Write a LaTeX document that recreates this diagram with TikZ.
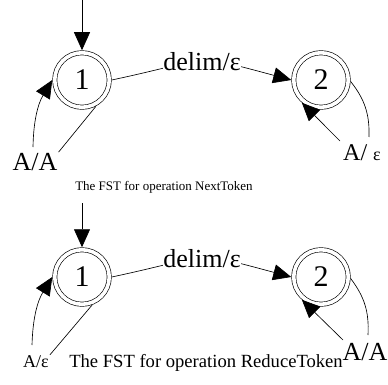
\documentclass[tikz,border=0pt]{standalone}
\usepackage{fontspec}
\setmainfont{Liberation Serif}
\usetikzlibrary{arrows.meta}
\begin{document}
\begin{tikzpicture}[x=1pt,y=1pt,
  state/.style={circle,draw,double,double distance=3.6pt,line width=0.65pt,
    minimum size=54.5pt,inner sep=0pt,outer sep=2.5pt,
    font=\fontsize{30}{30}\selectfont},
  conn/.style={line width=0.65pt},
  arr/.style={-{Triangle[length=18pt,width=16pt]}},
  lbl/.style={inner sep=1pt,font=\fontsize{26}{26}\selectfont},
  small/.style={inner sep=1pt,font=\fontsize{18}{18}\selectfont},
  edgelbl/.style={fill=white,inner sep=0pt,font=\fontsize{26}{26}\selectfont},
  caption/.style={inner sep=0pt}]
\useasboundingbox (0,0) rectangle (388,-385);

% ---------- NextToken ----------
\node[state] (s1) at (82,-80) {1};
\node[state] (s2) at (321,-80) {2};
\coordinate (i1) at (82,0);
\node[lbl] (l1) at (35,-162) {A/A};
\node[inner sep=1pt] (l2) at (362,-153)
  {\fontsize{24}{24}\selectfont A/ {\fontsize{18}{18}\selectfont ε}};
\coordinate (lp1) at (33,-147);
\coordinate (e2) at (369,-137);
\coordinate (k2) at (340,-141);
\node[caption,font=\fontsize{13}{13}\selectfont] (c1) at (164,-187)
  {The FST for operation NextToken};

\draw[conn,arr] (i1) -- (s1);
\draw[conn,arr] (s1.east) to[out=12,in=165,looseness=1.5]
  node[edgelbl] {delim/ε} (s2.west);
\draw[conn] (s1.-62) -- (l1.north east);
\draw[conn,arr] (lp1) to[bend left=15] (s1.west);
\draw[conn] (s2.-3) to[bend left=20] (e2);
\draw[conn,arr] (k2) -- (s2.-130);

% ---------- ReduceToken ----------
\node[state] (s3) at (82,-277) {1};
\node[state] (s4) at (321,-277) {2};
\coordinate (i2) at (82,-203);
\node[small] (l3) at (36,-362) {A/ε};
\node[lbl] (l4) at (365,-352) {A/A};
\coordinate (lp3) at (32,-345);
\coordinate (e4) at (368,-335);
\coordinate (k4) at (343,-340);
\node[caption,font=\fontsize{18.6}{18.6}\selectfont] (c2) at (206,-363)
  {The FST for operation ReduceToken};

\draw[conn,arr] (i2) -- (s3);
\draw[conn,arr] (s3.east) to[out=12,in=165,looseness=1.5]
  node[edgelbl] {delim/ε} (s4.west);
\draw[conn] (s3.-70) -- (l3.north east);
\draw[conn,arr] (lp3) to[bend left=15] (s3.west);
\draw[conn] (s4.-3) to[bend left=20] (e4);
\draw[conn,arr] (k4) -- (s4.-130);
\end{tikzpicture}
\end{document}
